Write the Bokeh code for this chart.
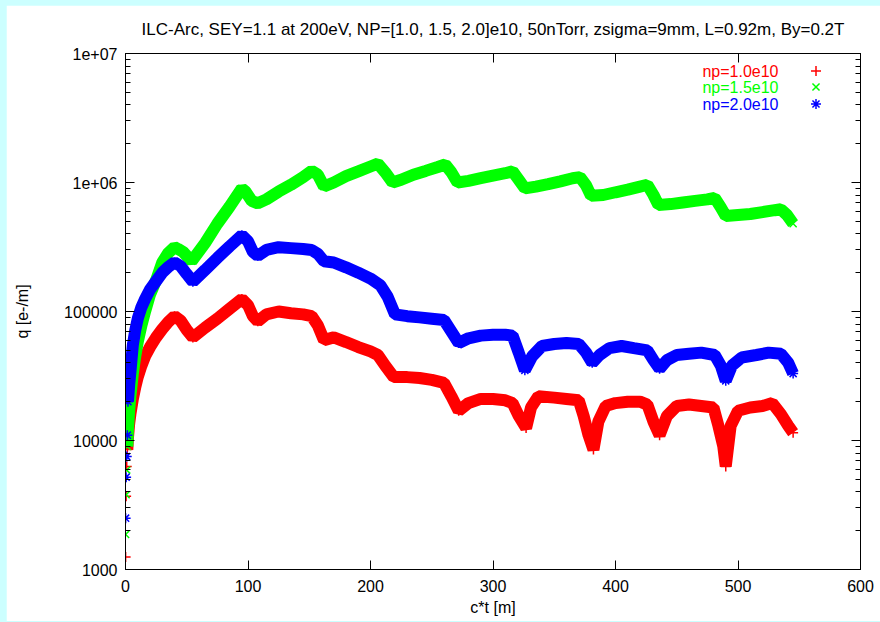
from bokeh.plotting import figure
from bokeh.models import (FixedTicker, LinearAxis, LogAxis, Label, Legend, LegendItem,
                          GlobalInlineStyleSheet, Range1d)
from bokeh.embed import file_html
from bokeh.resources import INLINE

TITLE = "ILC-Arc, SEY=1.1 at 200eV, NP=[1.0, 1.5, 2.0]e10, 50nTorr, zsigma=9mm, L=0.92m, By=0.2T"
X_LABEL = "c*t [m]"
Y_LABEL = "q [e-/m]"
X_TICKS = [0, 100, 200, 300, 400, 500, 600]
Y_TICKS = [1000, 10000, 100000, 1000000, 10000000]
Y_TICK_LABELS = ["1000", "10000", "100000", "1e+06", "1e+07"]
LEGEND_LABELS = ["np=1.0e10", "np=1.5e10", "np=2.0e10"]

# np = 1.0e10 (red, +)
red_x = [0.1, 0.5, 1.0, 1.5, 2, 3, 4, 6, 8, 10, 13, 16, 20, 25, 30, 35, 40, 45, 50, 55,
         65, 75, 85, 95, 100, 104, 108, 115, 125, 135, 145, 152, 157, 162, 170, 180, 190,
         200, 206, 212, 219, 230, 240, 250, 260, 266, 272, 280, 290, 300, 310, 316, 321,
         327, 331, 337, 350, 360, 370, 374, 378, 382, 386, 392, 400, 410, 420, 426, 431,
         436, 442, 450, 460, 470, 480, 484, 488, 490, 494, 500, 510, 520, 528, 535, 541, 545]
red_y = [1250, 3700, 6300, 8500, 10500, 13500, 16000, 21000, 26000, 31000, 38000, 45000,
         53000, 63000, 73000, 83000, 92000, 85000, 72000, 63000,
         75000, 88000, 105000, 125000, 112000, 92000, 84000, 95000, 100000, 97000, 95000,
         92000, 78000, 60000, 63000, 58000, 53000,
         49000, 46000, 38000, 31000, 31000, 30500, 29500, 28000, 22000, 17000, 19500, 21000,
         21000, 20500, 19500, 15500,
         12500, 18000, 22000, 21500, 21000, 20500, 15500, 11000, 8500, 14000, 18500, 19500,
         20000, 20000, 19000, 14000,
         11000, 15500, 18500, 19000, 18500, 18000, 13000, 9000, 6300, 13000, 17000, 18000,
         18500, 19500, 16000, 13000, 11500]

# np = 1.5e10 (green, x)
green_x = [0.1, 0.5, 1.0, 1.5, 2, 3, 4, 6, 8, 10, 13, 16, 20, 25, 30, 35, 40, 43, 47, 54,
           65, 75, 85, 95, 98, 103, 108, 115, 125, 135, 145, 152, 157, 162, 170, 180, 190,
           200, 206, 212, 218, 225, 235, 245, 255, 261, 266, 271, 280, 290, 300, 310, 316,
           321, 326, 335, 345, 355, 365, 371, 376, 380, 390, 400, 410, 420, 426, 431, 435,
           445, 455, 465, 475, 481, 486, 490, 500, 510, 520, 530, 535, 540, 545]
green_y = [1870, 3800, 5900, 9000, 12000, 17000, 22000, 33000, 45000, 58000, 78000, 100000,
           135000, 175000, 240000, 285000, 315000, 305000, 290000, 245000,
           340000, 480000, 650000, 900000, 850000, 720000, 690000, 740000, 850000, 960000,
           1100000, 1230000, 1150000, 930000, 1000000, 1120000, 1220000,
           1330000, 1400000, 1200000, 1000000, 1050000, 1150000, 1230000, 1320000, 1380000,
           1200000, 1000000, 1030000, 1080000, 1130000, 1180000, 1220000,
           1050000, 900000, 930000, 970000, 1020000, 1080000, 1100000, 950000, 790000, 800000,
           840000, 880000, 930000, 960000, 800000, 670000,
           680000, 700000, 720000, 740000, 760000, 640000, 550000, 560000, 570000, 590000,
           610000, 620000, 560000, 480000]

# np = 2.0e10 (blue, *)
blue_x = [0.1, 0.5, 1.0, 1.5, 2, 3, 4, 6, 8, 10, 13, 16, 20, 25, 30, 35, 40, 45, 50, 55,
          65, 75, 85, 95, 100, 104, 108, 115, 125, 135, 145, 152, 157, 162, 170, 180, 190,
          200, 208, 214, 220, 230, 240, 250, 260, 266, 272, 280, 290, 300, 310, 316, 321,
          326, 332, 340, 350, 360, 370, 376, 381, 387, 395, 405, 415, 426, 431, 436, 442,
          450, 460, 470, 481, 486, 490, 495, 503, 515, 525, 535, 541, 545]
blue_y = [2500, 5200, 7500, 11000, 20000, 27000, 34000, 55000, 72000, 88000, 108000, 125000,
          148000, 172000, 200000, 222000, 240000, 225000, 195000, 170000,
          210000, 260000, 320000, 390000, 350000, 290000, 270000, 300000, 315000, 310000,
          305000, 300000, 280000, 245000, 240000, 220000, 200000,
          180000, 160000, 130000, 95000, 92000, 90000, 88000, 86000, 70000, 57000, 62000,
          65000, 66000, 66000, 65000, 48000,
          35000, 45000, 54000, 56000, 57000, 56000, 48000, 40000, 46000, 52000, 54000, 52000,
          50000, 42000, 36000, 42000,
          46000, 47000, 48000, 46000, 38000, 29000, 38000, 44000, 46000, 48000, 47000, 40000,
          33000]

FONT = "Liberation Sans"

p = figure(width=874, height=616, output_backend="svg", toolbar_location=None,
           y_axis_type="log", x_range=Range1d(0, 600), y_range=Range1d(1000, 1e7),
           min_border_left=119, min_border_right=20, min_border_top=48, min_border_bottom=52)
p.stylesheets.append(GlobalInlineStyleSheet(
    css="body { background: #ccffff; margin: 0; padding: 5px 0 0 6px; overflow: hidden; }"))

p.title.text = TITLE
p.title.text_font = FONT
p.title.text_font_size = "17px"
p.title.text_font_style = "normal"
p.title.align = "center"
p.title.vertical_align = "top"
p.title.text_color = "black"
p.title.standoff = 25

p.background_fill_color = "white"
p.border_fill_color = "white"
p.outline_line_color = "black"
p.outline_line_width = 1
p.grid.visible = False

minor_y = [m * d for d in [1000, 10000, 100000, 1000000] for m in range(2, 10)]
xt = FixedTicker(ticks=X_TICKS, minor_ticks=[])
yt = FixedTicker(ticks=Y_TICKS, minor_ticks=minor_y)


def style_axis(ax, labels=True):
    ax.major_tick_in = 9
    ax.major_tick_out = 0
    ax.minor_tick_in = 5
    ax.minor_tick_out = 0
    ax.axis_line_color = "black"
    ax.major_tick_line_color = "black"
    ax.minor_tick_line_color = "black"
    ax.major_label_text_font = FONT
    ax.major_label_text_font_size = "16px"
    ax.major_label_text_color = "black"
    ax.axis_label_text_font = FONT
    ax.axis_label_text_font_size = "16px"
    ax.axis_label_text_font_style = "normal"
    ax.axis_label_text_color = "black"
    if not labels:
        ax.major_label_text_color = None
        ax.major_label_text_font_size = "6px"
        ax.major_label_standoff = 0


p.xaxis.ticker = xt
p.yaxis.ticker = yt
p.yaxis.major_label_overrides = {t: s for t, s in zip(Y_TICKS, Y_TICK_LABELS)}
p.xaxis.axis_label = X_LABEL
p.yaxis.axis_label = Y_LABEL
style_axis(p.xaxis[0])
style_axis(p.yaxis[0])
p.xaxis.major_label_standoff = 10
p.yaxis.major_label_standoff = 8
p.xaxis.axis_label_standoff = 4
p.yaxis.axis_label_standoff = 30

top = LinearAxis(ticker=xt)
style_axis(top, labels=False)
p.add_layout(top, "above")
right = LogAxis(ticker=yt)
style_axis(right, labels=False)
p.add_layout(right, "right")

series = [
    (red_x, red_y, "#ff0000", "cross", 3),
    (green_x, green_y, "#00ff00", "x", 3),
    (blue_x, blue_y, "#0000ff", "asterisk", 4),
]
marker_renderers = []
for xs, ys, col, mk, start in series:
    p.line(xs[start:], ys[start:], line_color=col, line_width=12)
    r = p.scatter(xs, ys, marker=mk, size=10, line_color=col, line_width=1.5)
    marker_renderers.append(r)

legend_y = [498, 482, 465]
for lab, r, ly in zip(LEGEND_LABELS, marker_renderers, legend_y):
    col = r.glyph.line_color
    p.add_layout(Label(x=653, y=ly, x_units="screen", y_units="screen", text=lab,
                       text_align="right", text_baseline="middle", text_color=col,
                       text_font=FONT, text_font_size="16px"))
    lg = Legend(items=[LegendItem(label=" ", renderers=[r])], location=(678, ly - 12),
                glyph_width=25, glyph_height=25, label_width=0, label_standoff=0,
                label_text_font_size="10px", padding=0, margin=0, spacing=0,
                background_fill_alpha=0, border_line_alpha=0)
    p.add_layout(lg)

open("out.html", "w").write(file_html(p, INLINE))
